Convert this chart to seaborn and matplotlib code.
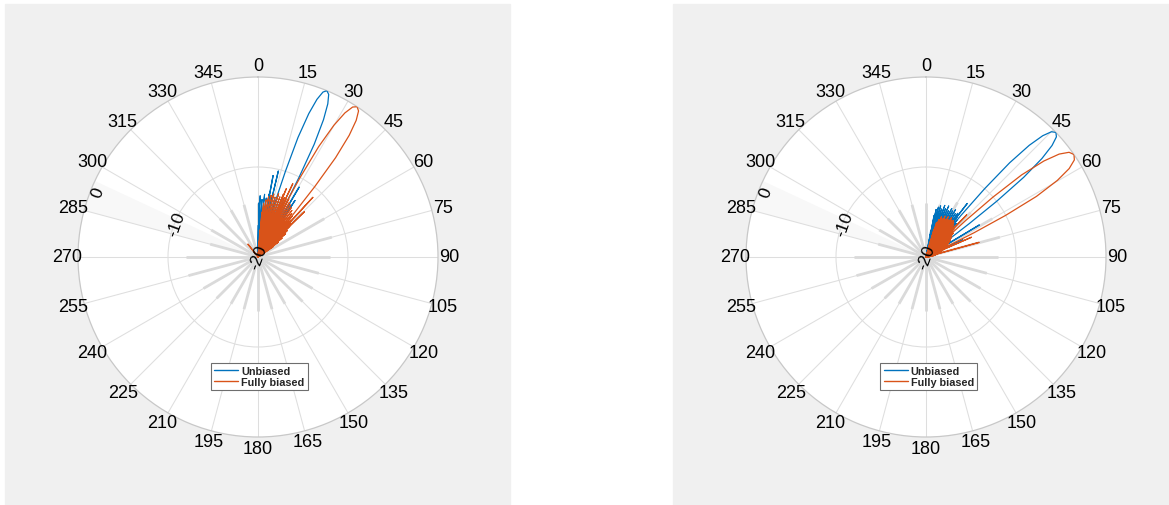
import numpy as np
import matplotlib
matplotlib.use('Agg')
import matplotlib.pyplot as plt
from matplotlib.lines import Line2D
from matplotlib.patches import Rectangle
import seaborn as sns

sns.set_theme(style='white')
plt.rcParams['font.family'] = ['Liberation Sans', 'DejaVu Sans']

BLUE = '#0072BD'
ORANGE = '#D95319'
FLOOR = -20  # dB at the centre of the plot

series_names = ['Unbiased', 'Fully biased']
theta_ticks = list(range(0, 360, 15))
r_labels = [0, -10, -20]

# short thick grey spokes near the centre (dB reached, one per 15 deg)
spoke_db = [-14, -14, -13, -13, -11.5, -11.5, -12, -13, -13, -13, -14, -14,
            -14, -14, -14, -13.5, -13, -12, -12, -14.5, -14, -14, -14, -14]

# ---- left pattern: main lobe + side lobes (deg, dB)
left_blue_ang = [9.5, 10.5, 11.3, 12.3, 13.3, 14.4,
                 16.5, 17.2, 17.75, 18.5, 19.5, 20.5, 21.5, 22.5, 23.5, 24.5, 25.5, 26.5, 27.25, 27.8, 28.5,
                 29.3, 30.5, 31.6, 32.2, 33.2, 34.2]
left_blue_db = [-20, -10.8, -20, -20, -10.2, -20,
                -20, -14, -10, -6, -3.1, -1.3, -0.3, 0, -0.3, -1.3, -3.1, -6, -10, -14, -20,
                -20, -11, -20, -20, -12.5, -20]
left_orange_ang = [21.2, 22.5, 23.6, 24.3, 25.4, 26.2,
                   26.4, 27.25, 27.9, 28.8, 29.95, 31.1, 32.25, 33.4, 34.55, 35.7, 36.85, 38, 38.9, 39.55, 40.4,
                   41.2, 42.6, 43.9, 44.6, 45.7, 46.8, 320.5, 322, 323.5]
left_orange_db = [-20, -11.8, -20, -20, -11, -20,
                  -20, -14, -10, -6, -3.1, -1.3, -0.3, 0, -0.3, -1.3, -3.1, -6, -10, -14, -20,
                  -20, -11, -20, -20, -12.8, -20, -20, -18.2, -20]

# dense low side lobes: peak dB at 1 deg steps from the start angle
left_blue_ripple_start = 0
left_blue_ripple = [-16.5, -14, -13.2, -15.8, -13.6, -16.2, -13, -15, -13.4, -16.4,
                    -12.9, -14.8, -13.3, -16, -12.8, -15.2, -13.5, -16.3, -12.7, -14.6,
                    -13.4, -15.9, -12.9, -14.9, -13.2, -16.1, -13.5, -15.3, -13.7, -16.5,
                    -13.9, -15.6, -14.2, -16.8, -14.4, -16.2, -15, -17.2, -15.6, -17.5,
                    -16.4, -18, -17, -18.6, -18.9]
left_orange_ripple_start = 4
left_orange_ripple = [-17, -15, -14, -16.2, -13.6, -15.8, -13.2, -15.4, -13, -16,
                      -12.8, -14.9, -13.1, -15.7, -12.6, -14.6, -12.9, -15.9, -12.5, -14.8,
                      -12.8, -16.1, -12.9, -14.7, -12.7, -15.6, -13, -15, -13.2, -16.3,
                      -13.4, -15.2, -13.6, -16.5, -13.9, -15.4, -14.1, -16.8, -14.5, -16,
                      -14.8, -17.3, -15.1, -16.6, -15.6, -17.8, -16, -17.4, -16.6, -18.3,
                      -17.2, -18.8, -18, -19.4]

# ---- right pattern
right_blue_ang = [36.5, 37.6, 38.7,
                  39.3, 40.05, 40.65, 41.6, 42.75, 43.9, 45.05, 46.2, 47.35, 48.5, 49.65, 50.8, 51.75, 52.35, 53.1,
                  56.8, 59, 61.2, 63.5, 65, 66.5]
right_blue_db = [-20, -12.5, -20,
                 -20, -14, -10, -6, -3.1, -1.3, -0.3, 0, -0.3, -1.3, -3.1, -6, -10, -14, -20,
                 -20, -13.1, -20, -20, -15.5, -20]
right_orange_ang = [42.5, 44, 45.5,
                    46.4, 47.4, 48.2, 49.35, 50.85, 52.3, 53.8, 55.3, 56.8, 58.3, 59.75, 61.25, 62.4, 63.2, 64.2,
                    64.8, 66.5, 68.2, 71.5, 74.6, 77.5]
right_orange_db = [-20, -13.5, -20,
                   -20, -14, -10, -6, -3.1, -1.3, -0.3, 0, -0.3, -1.3, -3.1, -6, -10, -14, -20,
                   -20, -14.5, -20, -20, -13.9, -20]

right_blue_ripple_start = 10
right_blue_ripple = [-17, -15.3, -14.6, -16.5, -14.3, -16.8, -14.1, -15.9, -14.4, -17,
                     -13.9, -15.6, -14.2, -16.7, -13.8, -15.4, -14.3, -16.9, -13.9, -15.8,
                     -14.1, -16.4, -13.8, -15.5, -14.2, -17.1, -14, -15.7, -14.4, -16.6,
                     -14.6, -16, -15, -17.2, -15.6, -17.4, -16.4, -18.2, -18.9]
right_orange_ripple_start = 15
right_orange_ripple = [-18, -16.8, -16, -17.6, -15.6, -17.2, -15.2, -16.9, -15.4, -17.5,
                       -15, -16.6, -15.3, -17.3, -14.9, -16.4, -15.2, -17.1, -14.8, -16.2,
                       -15, -17.4, -14.9, -16.3, -15.1, -17, -15.3, -16.5, -15.5, -17.6,
                       -15.6, -16.8, -15.9, -17.8, -16, -17, -16.3, -18, -16.5, -17.3,
                       -16.7, -18.2, -16.9, -17.6, -17.1, -18.4, -17.3, -17.9, -17.5, -18.6,
                       -17.7, -18.3, -17.9, -18.8, -18.1, -18.6, -18.3, -19, -18.5, -18.9,
                       -18.7, -19.2, -18.9, -19.3, -19, -19.5, -19.2, -19.6, -19.4, -19.7,
                       -19.6, -19.8]


def ripple_line(start, peaks):
    # each low side lobe drops back to the floor half a degree later
    ang, db = [], []
    for i, p in enumerate(peaks):
        ang += [start + i, start + i + 0.5]
        db += [p, FLOOR]
    return np.deg2rad(ang), np.array(db)


def draw_pattern(ax, blue, orange, legend_x):
    ax.set_theta_zero_location('N')
    ax.set_theta_direction(-1)
    ax.set_ylim(FLOOR, 0)
    ax.set_facecolor('white')

    # faint band behind the radial labels
    ax.bar(np.deg2rad(290), 20, width=np.deg2rad(10), bottom=FLOOR,
           color='#f8f8f8', edgecolor='none', zorder=0.5)

    ax.set_xticks(np.deg2rad(theta_ticks))
    ax.set_xticklabels([])
    ax.set_yticks([-10])
    ax.set_yticklabels([])
    ax.grid(True, color='#dedede', lw=0.75)
    ax.spines['polar'].set_color('#c8c8c8')
    ax.spines['polar'].set_linewidth(0.9)
    ax.tick_params(length=0, pad=0)

    for a, s in zip(theta_ticks, spoke_db):
        ax.plot([np.deg2rad(a)] * 2, [FLOOR, s], color='#dadada', lw=2.0,
                solid_capstyle='butt', zorder=1)

    for (ang, db, rs, rp), col in zip([blue, orange], [BLUE, ORANGE]):
        rt, rd = ripple_line(rs, rp)
        sns.lineplot(x=rt, y=rd, ax=ax, color=col, lw=0.8, sort=False,
                     estimator=None, zorder=3)
        sns.lineplot(x=np.deg2rad(ang), y=np.array(db), ax=ax, color=col,
                     lw=0.9, sort=False, estimator=None, zorder=3)

    for a in theta_ticks:
        ax.text(np.deg2rad(a), 1.25, str(a), ha='center', va='center',
                fontsize=13, color='black', clip_on=False)

    lab_r = {0: -0.8, -10: -10.2, -20: -20}
    for v in r_labels:
        ax.text(np.deg2rad(292), lab_r[v], str(v), rotation=70,
                rotation_mode='anchor', ha='center', va='center',
                fontsize=12.5, color='black', zorder=6)

    handles = [Line2D([], [], color=BLUE, lw=1), Line2D([], [], color=ORANGE, lw=1)]
    leg = ax.legend(handles, series_names, loc='center',
                    bbox_to_anchor=(legend_x, 0.168),
                    prop={'weight': 'bold', 'size': 7.8}, frameon=True,
                    fancybox=False, framealpha=1, edgecolor='#6e6e6e',
                    handlelength=2.2, handletextpad=0.3, borderpad=0.3,
                    labelspacing=0.1, borderaxespad=0)
    leg.get_frame().set_linewidth(0.8)
    leg.set_zorder(7)


fig = plt.figure(figsize=(11.69, 5.06), dpi=100, facecolor='white')
W, H = 1169, 506
fig.patches.append(Rectangle((5 / W, 0), 505 / W, 501 / H, transform=fig.transFigure,
                             color='#f0f0f0', zorder=-1))
fig.patches.append(Rectangle((673 / W, 0), 496 / W, 501 / H, transform=fig.transFigure,
                             color='#f0f0f0', zorder=-1))

ax1 = fig.add_axes([78 / W, (H - 438) / H, 360 / W, 360 / H], projection='polar')
ax2 = fig.add_axes([746 / W, (H - 438) / H, 360 / W, 360 / H], projection='polar')

draw_pattern(ax1,
             (left_blue_ang, left_blue_db, left_blue_ripple_start, left_blue_ripple),
             (left_orange_ang, left_orange_db, left_orange_ripple_start, left_orange_ripple),
             0.504)
draw_pattern(ax2,
             (right_blue_ang, right_blue_db, right_blue_ripple_start, right_blue_ripple),
             (right_orange_ang, right_orange_db, right_orange_ripple_start, right_orange_ripple),
             0.508)

fig.savefig('out.png', dpi=100, facecolor='white')
